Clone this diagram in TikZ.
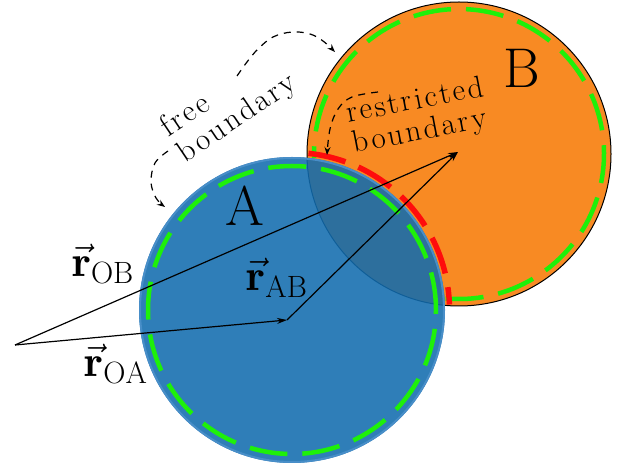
\RequirePackage{fix-cm}
\documentclass[tikz,border=0pt]{standalone}
\usepackage{fontspec}
\usetikzlibrary{arrows.meta}
\definecolor{ablue}{RGB}{18,108,174}
\definecolor{aedge}{RGB}{72,142,200}
\definecolor{borange}{RGB}{248,138,35}
\definecolor{bgreen}{RGB}{30,240,10}
\definecolor{bred}{RGB}{255,12,12}
\newfontfamily\lblfont[LetterSpace=8]{Latin Modern Roman}
\begin{document}
\begin{tikzpicture}[x=1pt,y=1pt,
  vec/.style={line width=1.2pt,-{Stealth[length=10pt,width=6pt]}},
  greendash/.style={bgreen,line width=4.5pt,dash pattern=on 38pt off 15pt},
  reddash/.style={bred,line width=5.5pt,dash pattern=on 38pt off 14pt},
  hint/.style={line width=1.2pt,dash pattern=on 7pt off 6pt},
  lbl/.style={font=\lblfont\fontsize{31}{31}\selectfont,align=left,inner sep=2pt},
  vlabel/.style={font=\fontsize{44}{44}\selectfont,inner sep=0pt},
  biglbl/.style={font=\fontsize{56}{56}\selectfont,inner sep=0pt}]
\useasboundingbox (0,0) rectangle (621,463);
\coordinate (cA) at (292,153);
\coordinate (cB) at (459,309);
% circle B
\fill[borange,draw=black,line width=1pt] (cB) circle (152);
\draw[greendash] ([shift={(264.7:145)}]cB) arc (264.7:541.5:145);
% circle A
\fill[ablue,opacity=0.88] (cA) circle (153);
\draw[aedge,line width=2pt] (cA) circle (152);
\draw[greendash] (cA) circle (144);
\draw[reddash] ([shift={(84:157.5)}]cA) arc (84:2:157.5);
% vectors
\coordinate (O) at (15,118);
\coordinate (tA) at (287,143);
\coordinate (tB) at (458,311);
\draw[vec] (O) -- (tA);
\draw[vec] (O) -- (tB);
\draw[vec] (tA) -- (tB);
\node[vlabel] (lOB) at (103,199) {$\vec{\mathbf r}_{\mathrm{OB}}$};
\node[vlabel] (lOA) at (116,99) {$\vec{\mathbf r}_{\mathrm{OA}}$};
\node[vlabel] (lAB) at (277,185) {$\vec{\mathbf r}_{\mathrm{AB}}$};
% region labels
\node[biglbl] (labA) at (245,257) {A};
\node[biglbl] (labB) at (522,395) {B};
% free boundary
\draw[hint,-{Stealth[length=8pt,width=6pt]}]
  plot[smooth,tension=0.6] coordinates {(237,387) (247,401) (258,414) (273,426) (292,431) (310,429) (323,422) (335,411)};
\draw[hint,-{Stealth[length=8pt,width=6pt]}]
  plot[smooth,tension=0.6] coordinates {(168,312) (155,300) (151,281) (156,265) (165,256)};
\node[lbl,rotate=34] (free) at (229,357) {free\\boundary};
% restricted boundary
\draw[hint,-{Stealth[length=8pt,width=6pt]}]
  plot[smooth,tension=0.6] coordinates {(378,371) (352,366) (338,354) (330,334) (327,308)};
\node[lbl,rotate=11] (restr) at (418,346) {restricted\\boundary};
\end{tikzpicture}
\end{document}
